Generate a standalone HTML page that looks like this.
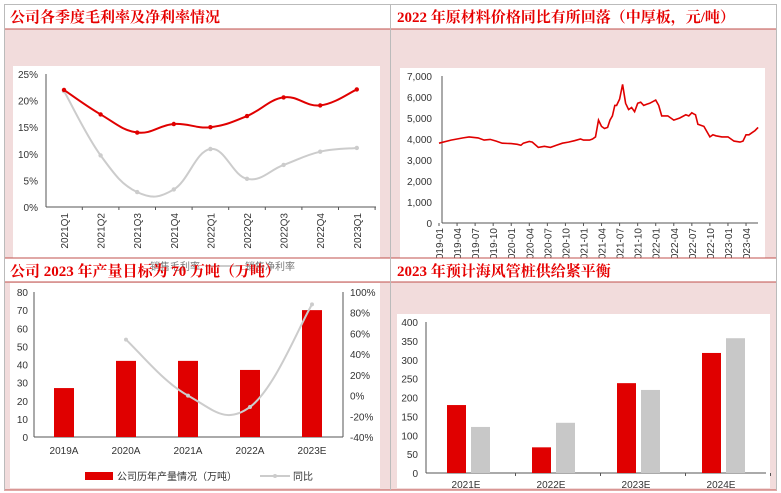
<!DOCTYPE html>
<html><head><meta charset="utf-8"><style>
body{margin:0;background:#fff;}
svg{display:block;font-family:"Liberation Sans","Noto Sans CJK SC",sans-serif;}
.t{font-family:"Liberation Serif","Noto Serif CJK SC",serif;font-weight:bold;font-size:15px;fill:#e60000;}
.ax{font-size:10px;fill:#333;}
</style></head><body>
<svg id="s" width="781" height="493" viewBox="0 0 781 493">
<g id="bg">
<rect x="4" y="4" width="773" height="486" fill="#f2dcdc"/>
<rect x="4" y="4" width="386" height="25" fill="#fff"/>
<rect x="390" y="4" width="387" height="25" fill="#fff"/>
<rect x="13" y="66" width="367" height="192" fill="#fff"/>
<rect x="400" y="68" width="365" height="190" fill="#fff"/>
<rect x="10" y="283" width="370" height="205" fill="#fff"/>
<rect x="397" y="314" width="373" height="174" fill="#fff"/>
</g>
<g id="g1"></g><g id="g2"></g>
<g id="mid">
<rect x="4" y="258" width="386" height="24" fill="#fff"/>
<rect x="390" y="258" width="387" height="24" fill="#fff"/>
<text x="150" y="270" class="ax" fill="#777" style="fill:#777">销售毛利率</text>
<line x1="205" y1="266" x2="240" y2="266" stroke="#ccc" stroke-width="2"/>
<text x="245" y="270" class="ax" style="fill:#777">销售净利率</text>
</g>
<g id="g3"></g><g id="g4"></g>
<g id="frame" fill="none">
<line x1="4" y1="29" x2="777" y2="29" stroke="#c0504d"/>
<line x1="4" y1="258" x2="777" y2="258" stroke="#c0504d"/>
<line x1="4" y1="282" x2="777" y2="282" stroke="#c0504d"/>
<line x1="4" y1="490" x2="777" y2="490" stroke="#c0504d"/>
<line x1="4.5" y1="4" x2="4.5" y2="490" stroke="#bbb"/>
<line x1="390.5" y1="4" x2="390.5" y2="490" stroke="#bbb"/>
<line x1="776.5" y1="4" x2="776.5" y2="490" stroke="#bbb"/>
<line x1="4" y1="4.5" x2="777" y2="4.5" stroke="#bbb"/>
</g>
<text x="10" y="22" class="t">公司各季度毛利率及净利率情况</text>
<text x="397" y="22" class="t">2022 年原材料价格同比有所回落（中厚板，元/吨）</text>
<text x="10" y="276" class="t">公司 2023 年产量目标为 70 万吨（万吨）</text>
<text x="397" y="276" class="t">2023 年预计海风管桩供给紧平衡</text>
</svg>
<script>
// Chart 1
const c1Cats=["2021Q1","2021Q2","2021Q3","2021Q4","2022Q1","2022Q2","2022Q3","2022Q4","2023Q1"];
const c1Gross=[22,17.4,14,15.6,15,17.1,20.6,19.1,22.1];
const c1Net=[21.8,9.7,2.8,3.3,10.9,5.3,7.9,10.4,11.1];
const c1Ticks=[0,5,10,15,20,25];
// Chart 2
const c2Months=[0,2,4,5,6.5,7.5,8.5,9.5,10.5,12,13,13.6,14,15,15.5,16.5,17.5,18.5,19.5,20.5,21.5,22.5,23.5,24,24.3,25,25.5,26,26.5,27,27.5,28,28.4,28.6,28.8,29.2,29.5,30,30.5,31,31.5,32,32.5,33,33.5,34,34.5,35,36,36.5,37,38,38.5,39,40,41,41.5,42,42.3,42.6,43,44,45,45.5,46,47,48,49,50,50.5,51,51.5,52,52.5,53];
const c2Vals=[3800,3950,4050,4100,4050,3950,3980,3900,3800,3780,3750,3700,3800,3880,3850,3600,3650,3600,3700,3800,3850,3920,4000,3950,3950,3950,4000,4100,4900,4600,4500,4550,4900,5000,5100,5600,5600,5900,6600,5700,5400,5500,5300,5700,5750,5600,5650,5700,5850,5600,5100,5100,5000,4900,5000,5150,5100,5250,5200,5150,4700,4600,4100,4200,4150,4100,4100,3900,3850,3900,4200,4200,4300,4400,4550,4450,4400,4150,3950];
const c2Ticks=[0,1000,2000,3000,4000,5000,6000,7000];
const c2Labels=["2019-01","2019-04","2019-07","2019-10","2020-01","2020-04","2020-07","2020-10","2021-01","2021-04","2021-07","2021-10","2022-01","2022-04","2022-07","2022-10","2023-01","2023-04"];
// Chart 3
const c3Cats=["2019A","2020A","2021A","2022A","2023E"];
const c3Output=[27,42,42,37,70];
const c3Yoy=[null,54,0,-11,88];
const c3Left=[0,10,20,30,40,50,60,70,80];
const c3Right=[-40,-20,0,20,40,60,80,100];
// Chart 4
const c4Cats=["2021E","2022E","2023E","2024E"];
const c4Supply=[180,68,238,318];
const c4Demand=[122,133,220,357];
const c4Ticks=[0,50,100,150,200,250,300,350,400];

const NS="http://www.w3.org/2000/svg";
function mk(p,tag,a,txt){const e=document.createElementNS(NS,tag);for(const k in a)e.setAttribute(k,a[k]);if(txt!=null)e.textContent=txt;p.appendChild(e);return e;}
function smooth(pts){let d="M"+pts[0][0]+","+pts[0][1];for(let i=0;i<pts.length-1;i++){const p0=pts[i-1]||pts[i],p1=pts[i],p2=pts[i+1],p3=pts[i+2]||p2;const t=0.2;d+=" C"+(p1[0]+(p2[0]-p0[0])*t)+","+(p1[1]+(p2[1]-p0[1])*t)+" "+(p2[0]-(p3[0]-p1[0])*t)+","+(p2[1]-(p3[1]-p1[1])*t)+" "+p2[0]+","+p2[1];}return d;}

// ---- chart 1
(function(){const g=document.getElementById('g1');
const x=i=>64+i*36.6, y=v=>207-v*(133/25);
mk(g,'line',{x1:46,y1:74,x2:46,y2:207,stroke:'#555'});
mk(g,'line',{x1:46,y1:207,x2:376,y2:207,stroke:'#555'});
c1Ticks.forEach(v=>{const t=mk(g,'text',{x:38,y:y(v)+4,'text-anchor':'end',class:'ax'},v+'%');});
c1Cats.forEach((c,i)=>{mk(g,'line',{x1:x(i)+18.3,y1:207,x2:x(i)+18.3,y2:210,stroke:'#555'});const t=mk(g,'text',{transform:`translate(${x(i)+4},213) rotate(-90)`,'text-anchor':'end',class:'ax'},c);});
[[c1Net,'#ccc','net-margin-line'],[c1Gross,'#e00000','gross-margin-line']].forEach(([arr,col,nm])=>{const pts=arr.map((v,i)=>[x(i),y(v)]);const p=mk(g,'path',{d:smooth(pts),fill:'none',stroke:col,'stroke-width':2});pts.forEach(q=>mk(g,'circle',{cx:q[0],cy:q[1],r:2.2,fill:col}));});
})();
// ---- chart 2
(function(){const g=document.getElementById('g2');
const x=m=>439+m*6.02, y=v=>223-v*(147/7000);
mk(g,'line',{x1:442,y1:76,x2:442,y2:223,stroke:'#555'});
mk(g,'line',{x1:442,y1:223,x2:758,y2:223,stroke:'#555'});
c2Ticks.forEach(v=>{const t=mk(g,'text',{x:432,y:y(v)+4,'text-anchor':'end',class:'ax'},v.toLocaleString('en-US'));});
c2Labels.forEach((l,i)=>{const xx=x(i*3);mk(g,'line',{x1:xx,y1:223,x2:xx,y2:226,stroke:'#555'});const t=mk(g,'text',{transform:`translate(${xx+4},228) rotate(-90)`,'text-anchor':'end',class:'ax'},l);});
const d=c2Months.map((m,i)=>(i?'L':'M')+x(m).toFixed(1)+','+y(c2Vals[i]).toFixed(1)).join(' ');
const p=mk(g,'path',{d:d,fill:'none',stroke:'#e00000','stroke-width':1.6});


})();
// ---- chart 3
(function(){const g=document.getElementById('g3');
const x=i=>64+i*62, y=v=>437-v*(145/80), yr=v=>437-(v+40)*(145/140);
mk(g,'line',{x1:34,y1:292,x2:34,y2:437,stroke:'#555'});
mk(g,'line',{x1:343,y1:292,x2:343,y2:437,stroke:'#555'});
mk(g,'line',{x1:34,y1:437,x2:343,y2:437,stroke:'#555'});
c3Left.forEach(v=>{const t=mk(g,'text',{x:28,y:y(v)+4,'text-anchor':'end',class:'ax'},v);});
c3Right.forEach(v=>{const t=mk(g,'text',{x:350,y:yr(v)+4,class:'ax'},v+'%');});
c3Cats.forEach((c,i)=>{const b=mk(g,'rect',{x:x(i)-10,y:y(c3Output[i]),width:20,height:437-y(c3Output[i]),fill:'#e00000'});const t=mk(g,'text',{x:x(i),y:454,'text-anchor':'middle',class:'ax'},c);});
const pts=[];c3Yoy.forEach((v,i)=>{if(v!=null)pts.push([x(i),yr(v)]);});
const p=mk(g,'path',{d:smooth(pts),fill:'none',stroke:'#ccc','stroke-width':2});


pts.forEach(q=>mk(g,'circle',{cx:q[0],cy:q[1],r:2,fill:'#ccc'}));
mk(g,'rect',{x:85,y:472,width:28,height:8,fill:'#e00000'});
const l1=mk(g,'text',{x:117,y:480,class:'ax'},'公司历年产量情况（万吨）');


mk(g,'line',{x1:260,y1:476,x2:290,y2:476,stroke:'#ccc','stroke-width':2});
mk(g,'circle',{cx:275,cy:476,r:2,fill:'#ccc'});
const l2=mk(g,'text',{x:293,y:480,class:'ax'},'同比');


})();
// ---- chart 4
(function(){const g=document.getElementById('g4');
const x=i=>473+i*85, y=v=>473-v*(151/400);
mk(g,'line',{x1:426,y1:322,x2:426,y2:473,stroke:'#555'});
mk(g,'line',{x1:426,y1:473,x2:766,y2:473,stroke:'#555'});
c4Ticks.forEach(v=>{const t=mk(g,'text',{x:418,y:y(v)+4,'text-anchor':'end',class:'ax'},v);});
c4Cats.forEach((c,i)=>{
const b1=mk(g,'rect',{x:x(i)-26,y:y(c4Supply[i]),width:19,height:473-y(c4Supply[i]),fill:'#e00000'});


const b2=mk(g,'rect',{x:x(i)-2,y:y(c4Demand[i]),width:19,height:473-y(c4Demand[i]),fill:'#c8c8c8'});


mk(g,'line',{x1:x(i)+42.5,y1:473,x2:x(i)+42.5,y2:476,stroke:'#555'});
const t=mk(g,'text',{x:x(i)-7,y:488,'text-anchor':'middle',class:'ax'},c);});
})();
</script>
</body></html>
